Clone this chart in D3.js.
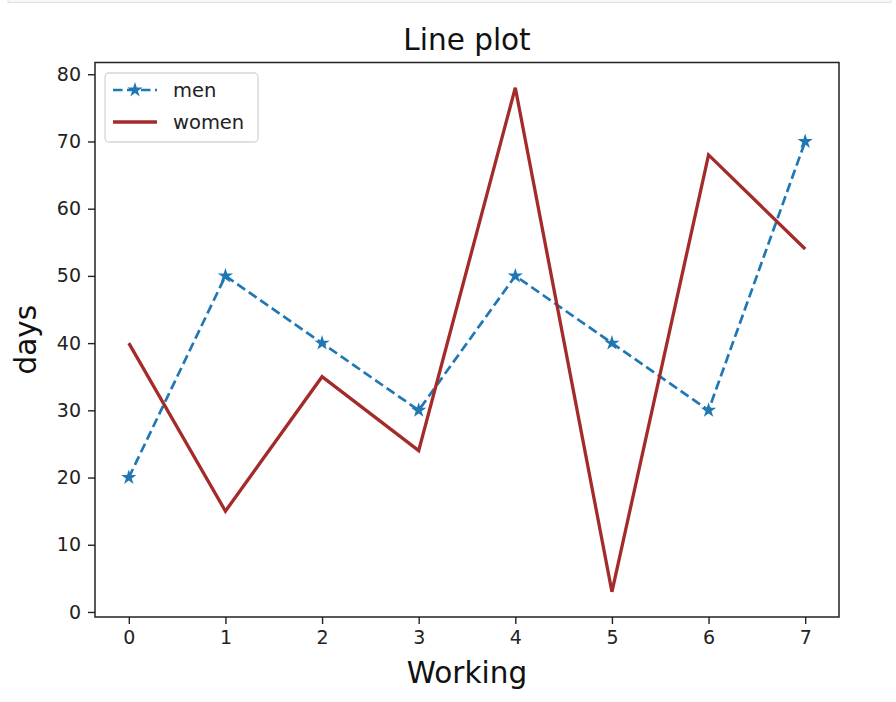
<!DOCTYPE html>
<html>
<head>
<meta charset="utf-8">
<script src="https://cdn.jsdelivr.net/npm/d3@7"></script>
<style>
  body { margin: 0; background: white; }
  svg { display: block; font-family: "DejaVu Sans", sans-serif; }
</style>
</head>
<body>
<div id="chart"></div>
<script>
// chart data
const working = [0, 1, 2, 3, 4, 5, 6, 7]
const men = [20, 50, 40, 30, 50, 40, 30, 70]
const women = [40, 15, 35, 24, 78, 3, 68, 54]
const xTicks = [0, 1, 2, 3, 4, 5, 6, 7]
const yTicks = [0, 10, 20, 30, 40, 50, 60, 70, 80]

const width = 896
const height = 702
const plotLeft = 95
const plotRight = 839
const plotTop = 62.5
const plotBottom = 617

const menColor = "#1f77b4"
const womenColor = "#a52a2a"

const svg = d3.select("#chart").append("svg")
    .attr("width", width)
    .attr("height", height)

// notebook frame strip at the top
svg.append("rect")
    .attr("x", 8)
    .attr("y", -2)
    .attr("width", 883)
    .attr("height", 4.5)
    .style("fill", "#f7f7f7")
    .style("stroke", "#e0e0e0")
    .style("stroke-width", 1)

// scales, with matplotlib's 5% margins
const allVals = men.concat(women)
const yMin = d3.min(allVals), yMax = d3.max(allVals)
const yPad = (yMax - yMin) * 0.05
const xPad = (d3.max(working) - d3.min(working)) * 0.05

const x = d3.scaleLinear()
    .domain([d3.min(working) - xPad, d3.max(working) + xPad])
    .range([plotLeft, plotRight])

const y = d3.scaleLinear()
    .domain([yMin - yPad, yMax + yPad])
    .range([plotBottom, plotTop])

// axes
const xAxis = svg.append("g")
    .attr("transform", "translate(0," + plotBottom + ")")
    .call(d3.axisBottom(x).tickValues(xTicks).tickSize(7).tickPadding(7).tickFormat(d3.format("d")))

const yAxis = svg.append("g")
    .attr("transform", "translate(" + plotLeft + ",0)")
    .call(d3.axisLeft(y).tickValues(yTicks).tickSize(7).tickPadding(7).tickFormat(d3.format("d")))

for (const ax of [xAxis, yAxis]) {
    ax.select(".domain").remove()
    ax.selectAll(".tick line").style("stroke", "#222").style("stroke-width", 1.4)
    ax.selectAll(".tick text")
        .style("font-family", "DejaVu Sans")
        .style("font-size", "19px")
        .style("fill", "#222")
}

// lines
const line = d3.line()
    .x((d, i) => x(working[i]))
    .y(d => y(d))

const plot = svg.append("g")

plot.append("path")
    .datum(men)
    .attr("d", line)
    .style("fill", "none")
    .style("stroke", menColor)
    .style("stroke-width", 2.7)
    .style("stroke-dasharray", "9.5,4.5")

const star = d3.symbol().type(d3.symbolStar).size(72)

plot.selectAll(".star")
    .data(men)
    .enter()
    .append("path")
    .attr("class", "star")
    .attr("d", star)
    .attr("transform", (d, i) => "translate(" + x(working[i]) + "," + y(d) + ")")
    .style("fill", menColor)

plot.append("path")
    .datum(women)
    .attr("d", line)
    .style("fill", "none")
    .style("stroke", womenColor)
    .style("stroke-width", 3.3)
    .style("stroke-linejoin", "miter")

// frame
svg.append("rect")
    .attr("x", plotLeft)
    .attr("y", plotTop)
    .attr("width", plotRight - plotLeft)
    .attr("height", plotBottom - plotTop)
    .style("fill", "none")
    .style("stroke", "#222")
    .style("stroke-width", 1.5)

// title and labels
svg.append("text")
    .attr("x", (plotLeft + plotRight) / 2)
    .attr("y", 50)
    .attr("text-anchor", "middle")
    .style("font-size", "29.5px")
    .style("fill", "#111")
    .text("Line plot")

svg.append("text")
    .attr("x", (plotLeft + plotRight) / 2)
    .attr("y", 683)
    .attr("text-anchor", "middle")
    .style("font-size", "29.5px")
    .style("fill", "#111")
    .text("Working")

svg.append("text")
    .attr("transform", "translate(36," + ((plotTop + plotBottom) / 2) + ") rotate(-90)")
    .attr("text-anchor", "middle")
    .style("font-size", "29.5px")
    .style("fill", "#111")
    .text("days")

// legend
const legend = svg.append("g")

legend.append("rect")
    .attr("x", 105)
    .attr("y", 73)
    .attr("width", 153)
    .attr("height", 69)
    .attr("rx", 4)
    .style("fill", "white")
    .style("fill-opacity", 0.8)
    .style("stroke", "#d6d6d6")
    .style("stroke-width", 1.3)

const legendItems = [
    { name: "men", color: menColor, dash: "9.5,4.5", marker: true, width: 2.7 },
    { name: "women", color: womenColor, dash: null, marker: false, width: 3.3 }
]

legendItems.forEach(function(item, i) {
    const ly = 90 + i * 32
    legend.append("line")
        .attr("x1", 113)
        .attr("x2", 157)
        .attr("y1", ly)
        .attr("y2", ly)
        .style("stroke", item.color)
        .style("stroke-width", item.width)
        .style("stroke-dasharray", item.dash)
    if (item.marker) {
        legend.append("path")
            .attr("d", star)
            .attr("transform", "translate(135," + ly + ")")
            .style("fill", item.color)
    }
    legend.append("text")
        .attr("x", 173)
        .attr("y", ly + 6.5)
        .style("font-size", "19.5px")
        .style("fill", "#222")
        .text(item.name)
})
</script>
</body>
</html>
